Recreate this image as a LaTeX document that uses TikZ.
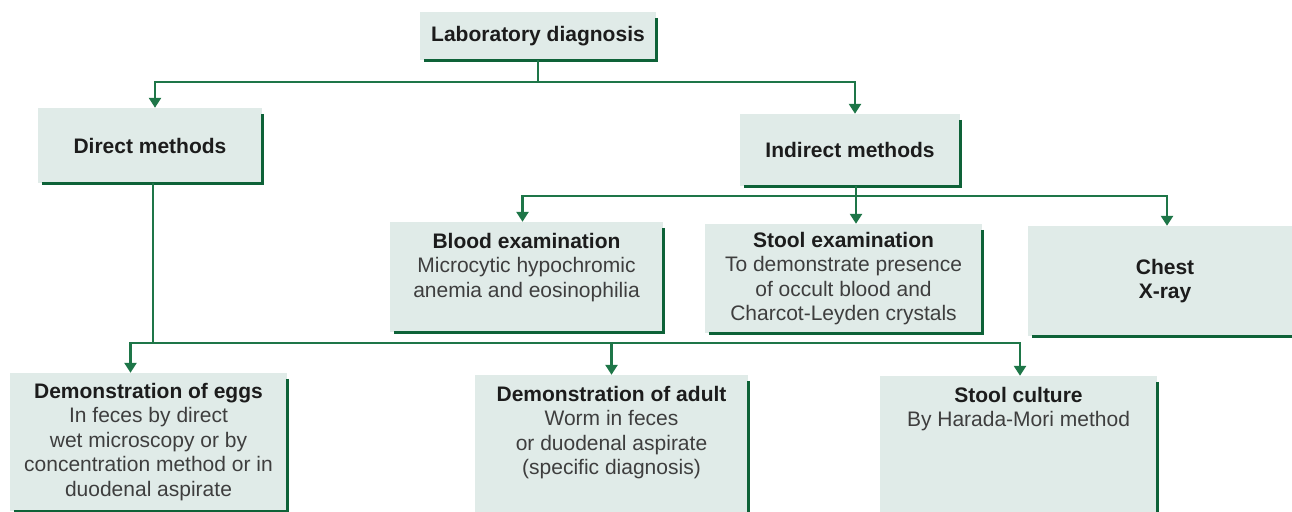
\documentclass[tikz,border=0pt]{standalone}
\usepackage{fontspec}
\setmainfont{Liberation Sans}
\usepackage{xcolor}
\usetikzlibrary{arrows.meta,positioning}
\definecolor{boxfill}{RGB}{224,235,232}
\definecolor{edgecolor}{RGB}{14,98,56}
\definecolor{linkcolor}{RGB}{30,118,72}
\definecolor{headcolor}{RGB}{28,28,28}
\definecolor{bodycolor}{RGB}{62,62,62}
\tikzset{
  diagbox/.style={fill=boxfill,inner sep=0pt,align=center,text=headcolor},
  boxtext/.style={inner sep=0pt,align=center,text=bodycolor},
  boxedge/.style={draw=edgecolor,line width=3pt},
  link/.style={draw=linkcolor,line width=2.5pt},
  linkarrow/.style={link,-{Triangle[length=10pt,width=12pt]}}
}

\begin{document}
\begin{tikzpicture}[x=1pt,y=-1pt,font=\fontsize{21}{24.5}\selectfont]
  \useasboundingbox (0,0) rectangle (1292,511);

  % --- Top levels ---
  \node[diagbox,minimum width=236pt,minimum height=48pt] (lab) at (538,36)
    {\bfseries Laboratory diagnosis};
  \node[diagbox,minimum width=224pt,minimum height=75pt] (direct) at (150,145.5)
    {\bfseries Direct methods};
  \node[diagbox,minimum width=220pt,minimum height=72pt] (indirect) at (850,150)
    {\bfseries Indirect methods};

  % --- Indirect methods ---
  \node[diagbox,minimum width=273pt,minimum height=110pt] (blood) at (526.5,277) {};
  \node[boxtext,below=11pt of blood.north] (bloodtxt)
    {{\bfseries\color{headcolor}Blood examination}\\
     Microcytic hypochromic\\anemia and eosinophilia};

  \node[diagbox,minimum width=277pt,minimum height=109pt,text=bodycolor] (stool) at (843.5,278.5)
    {{\bfseries\color{headcolor}Stool examination}\\
     To demonstrate presence\\of occult blood and\\Charcot-Leyden crystals};

  \node[diagbox,minimum width=274pt,minimum height=110pt] (chest) at (1165,281)
    {\bfseries Chest\\\bfseries X-ray};

  % --- Direct methods ---
  \node[diagbox,minimum width=277pt,minimum height=138pt] (eggs) at (148.5,442) {};
  \node[boxtext,below=10pt of eggs.north] (eggstxt)
    {{\bfseries\color{headcolor}Demonstration of eggs}\\
     In feces by direct\\wet microscopy or by\\concentration method or in\\duodenal aspirate};

  \node[diagbox,minimum width=273pt,minimum height=138pt] (adult) at (611.5,444) {};
  \node[boxtext,below=11pt of adult.north] (adulttxt)
    {{\bfseries\color{headcolor}Demonstration of adult}\\
     Worm in feces\\or duodenal aspirate\\(specific diagnosis)};

  \node[diagbox,minimum width=277pt,minimum height=138pt] (culture) at (1018.5,445) {};
  \node[boxtext,below=11pt of culture.north] (culturetxt)
    {{\bfseries\color{headcolor}Stool culture}\\
     By Harada-Mori method};

  % --- Shadow edges ---
  \foreach \b in {lab,direct,indirect,blood,stool,chest,eggs,adult,culture}
    \draw[boxedge] ([yshift=-6pt]\b.north east) -- (\b.south east) -- ([xshift=4pt]\b.south west);

  % --- Connectors ---
  \coordinate (labjoin) at (538,82);
  \draw[link] (lab.south) -- (labjoin);
  \draw[linkarrow] (labjoin) -| ([xshift=5pt]direct.north);
  \draw[linkarrow] (labjoin) -| ([xshift=5pt]indirect.north);

  \coordinate (indjoin) at (856,196);
  \draw[link] (indirect.south -| indjoin) -- (indjoin);
  \draw[linkarrow] (indjoin) -| ([xshift=-4pt]blood.north);
  \draw[linkarrow] (indjoin) -- (indjoin |- stool.north);
  \draw[linkarrow] (indjoin) -| ([xshift=2pt]chest.north);

  \coordinate (dirjoin) at (153,343);
  \draw[link] (direct.south -| dirjoin) -- (dirjoin);
  \draw[linkarrow] (dirjoin) -| ([xshift=-18pt]eggs.north);
  \draw[linkarrow] (dirjoin) -| (adult.north);
  \draw[linkarrow] (dirjoin) -| ([xshift=1.5pt]culture.north);

\end{tikzpicture}
\end{document}
